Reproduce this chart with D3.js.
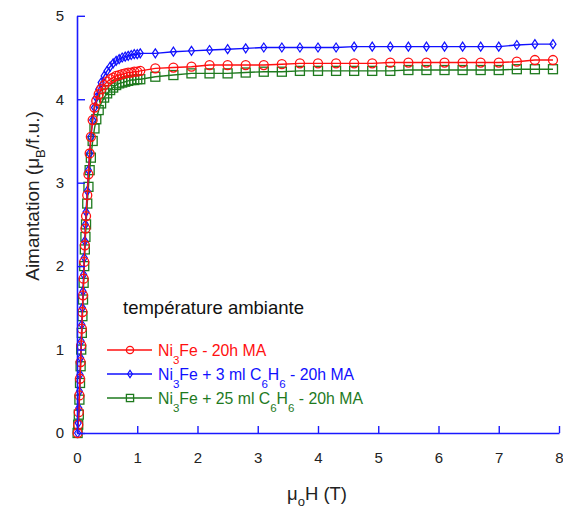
<!DOCTYPE html>
<html><head><meta charset="utf-8">
<script src="https://cdn.jsdelivr.net/npm/d3@7"></script>
<style>body{margin:0;background:#fff}svg{display:block}text{font-family:"Liberation Sans",Arial,sans-serif}</style>
</head><body>
<svg id="c" width="563" height="510"></svg>
<script>
const fieldH = [0.01,0.02,0.03,0.04,0.05,0.06,0.07,0.08,0.09,0.10,0.11,0.12,0.13,0.14,0.15,0.17,0.19,0.21,0.23,0.26,0.29,0.32,0.36,0.40,0.45,0.50,0.55,0.60,0.65,0.70,0.75,0.80,0.85,0.90,0.95,1.00,1.05,
  1.3,1.6,1.9,2.2,2.5,2.8,3.1,3.4,3.7,4.0,4.3,4.6,4.9,5.2,5.5,5.8,6.1,6.4,6.7,7.0,7.3,7.6,7.9];
const redM = [0.0,0.1,0.25,0.45,0.65,0.85,1.05,1.25,1.45,1.65,1.85,2.05,2.25,2.45,2.6,2.85,3.1,3.35,3.55,3.75,3.9,3.98,4.06,4.12,4.17,4.21,4.24,4.26,4.28,4.29,4.30,4.31,4.32,4.32,4.33,4.33,4.34,
  4.37,4.38,4.39,4.41,4.41,4.41,4.41,4.42,4.43,4.43,4.43,4.43,4.43,4.44,4.44,4.44,4.44,4.44,4.44,4.44,4.45,4.47,4.47];
const blueM = [0.0,0.12,0.3,0.5,0.7,0.9,1.1,1.3,1.5,1.7,1.9,2.1,2.3,2.5,2.65,2.9,3.15,3.35,3.55,3.75,3.9,4.02,4.12,4.2,4.28,4.34,4.39,4.43,4.46,4.48,4.5,4.51,4.52,4.53,4.54,4.54,4.55,
  4.55,4.57,4.58,4.59,4.6,4.61,4.62,4.62,4.62,4.62,4.62,4.63,4.63,4.63,4.63,4.63,4.63,4.63,4.63,4.63,4.65,4.66,4.66];
const greenM = [0.0,0.1,0.22,0.4,0.6,0.8,1.0,1.2,1.4,1.6,1.8,2.0,2.2,2.35,2.5,2.75,2.95,3.15,3.3,3.5,3.65,3.76,3.87,3.95,4.02,4.07,4.11,4.14,4.17,4.19,4.2,4.21,4.22,4.23,4.23,4.24,4.24,
  4.27,4.29,4.31,4.31,4.31,4.32,4.33,4.33,4.34,4.34,4.34,4.34,4.34,4.34,4.35,4.35,4.35,4.35,4.35,4.35,4.36,4.36,4.36];
const xTicks = [0,1,2,3,4,5,6,7,8];
const yTicks = [0,1,2,3,4,5];
const seriesNames = ["red","blue","green"];

const svg = d3.select("#c");
const x = d3.scaleLinear().domain([0,8]).range([77,559]);
const y = d3.scaleLinear().domain([0,5]).range([433,15.8]);
const axisColor = "#1a1aff";

const series = [
  {name:"green", M:greenM, color:"#1e7a1e", shape:"square"},
  {name:"blue", M:blueM, color:"#1010ff", shape:"diamond"},
  {name:"red", M:redM, color:"#ff1010", shape:"circle"}
];

function marker(g, shape, color, cx, cy, s){
  if(shape==="circle") g.append("circle").attr("cx",cx).attr("cy",cy).attr("r",4.5*s).attr("fill","none").attr("stroke",color).attr("stroke-width",1.3);
  else if(shape==="square") g.append("rect").attr("x",cx-4.5*s).attr("y",cy-4.5*s).attr("width",9*s).attr("height",9*s).attr("fill","none").attr("stroke",color).attr("stroke-width",1.3);
  else g.append("path").attr("d",`M${cx},${cy-4.5*s}L${cx+3*s},${cy}L${cx},${cy+4.5*s}L${cx-3*s},${cy}Z`).attr("fill","none").attr("stroke",color).attr("stroke-width",1.2);
}

const line = d3.line().x(d=>x(d[0])).y(d=>y(d[1]));
series.forEach(s=>{
  const pts = fieldH.map((h,i)=>[h,s.M[i]]);
  const g = svg.append("g");
  g.append("path").attr("d",line(pts)).attr("fill","none").attr("stroke",s.color).attr("stroke-width",1.4);
  pts.forEach(p=>marker(g,s.shape,s.color,x(p[0]),y(p[1]),1));
});

// axes
const ax = svg.append("g").attr("transform","translate(0,433)")
  .call(d3.axisBottom(x).tickValues(xTicks).tickSize(-7).tickSizeOuter(0).tickPadding(19).tickFormat(d3.format("d")));
const ay = svg.append("g").attr("transform","translate(77,0)")
  .call(d3.axisLeft(y).tickValues(yTicks).tickSize(-8).tickSizeOuter(0).tickPadding(13).tickFormat(d3.format("d")));
[ax,ay].forEach(a=>{
  a.select(".domain").attr("stroke",axisColor).attr("stroke-width",1.6);
  a.selectAll(".tick line").attr("stroke",axisColor).attr("stroke-width",1.4);
  a.selectAll(".tick text").attr("fill","#222").style("font-size","15px").style("font-family","Liberation Sans, Arial, sans-serif");
});

// axis titles
const xt = svg.append("text").attr("x",317).attr("y",500).attr("text-anchor","middle").attr("fill","#222").style("font-size","18.5px");
xt.append("tspan").text("μ");
xt.append("tspan").attr("dy",6).style("font-size","13px").text("o");
xt.append("tspan").attr("dy",-6).text("H (T)");

const yt = svg.append("text").attr("transform","translate(39,196) rotate(-90)").attr("text-anchor","middle").attr("fill","#222").style("font-size","19px");
yt.append("tspan").text("Aimantation (μ");
yt.append("tspan").attr("dy",6).style("font-size","13px").text("B");
yt.append("tspan").attr("dy",-6).text("/f.u.)");

// legend
svg.append("text").attr("x",123).attr("y",314).attr("fill","#111").style("font-size","18.5px").text("température ambiante");
const legend = [
  {color:"#ff1010", shape:"circle", parts:[["Ni",0],["3",1],["Fe - 20h MA",0]]},
  {color:"#1010ff", shape:"diamond", parts:[["Ni",0],["3",1],["Fe + 3 ml C",0],["6",1],["H",0],["6",1],[" - 20h MA",0]]},
  {color:"#1e7a1e", shape:"square", parts:[["Ni",0],["3",1],["Fe + 25 ml C",0],["6",1],["H",0],["6",1],[" - 20h MA",0]]}
];
legend.forEach((L,i)=>{
  const cy = 350 + i*24;
  const g = svg.append("g");
  g.append("line").attr("x1",107).attr("x2",152).attr("y1",cy).attr("y2",cy).attr("stroke",L.color).attr("stroke-width",1.4);
  marker(g,L.shape,L.color,130,cy,0.8);
  const t = g.append("text").attr("x",158).attr("y",cy+5.5).attr("fill",L.color).style("font-size","15.8px");
  let sub=false;
  L.parts.forEach(([s,isSub])=>{
    const ts = t.append("tspan").text(s);
    if(isSub && !sub){ts.attr("dy",8).style("font-size","11.5px"); sub=true;}
    else if(!isSub && sub){ts.attr("dy",-8); sub=false;}
    else if(isSub) ts.style("font-size","11.5px");
  });
});
</script>
</body></html>
